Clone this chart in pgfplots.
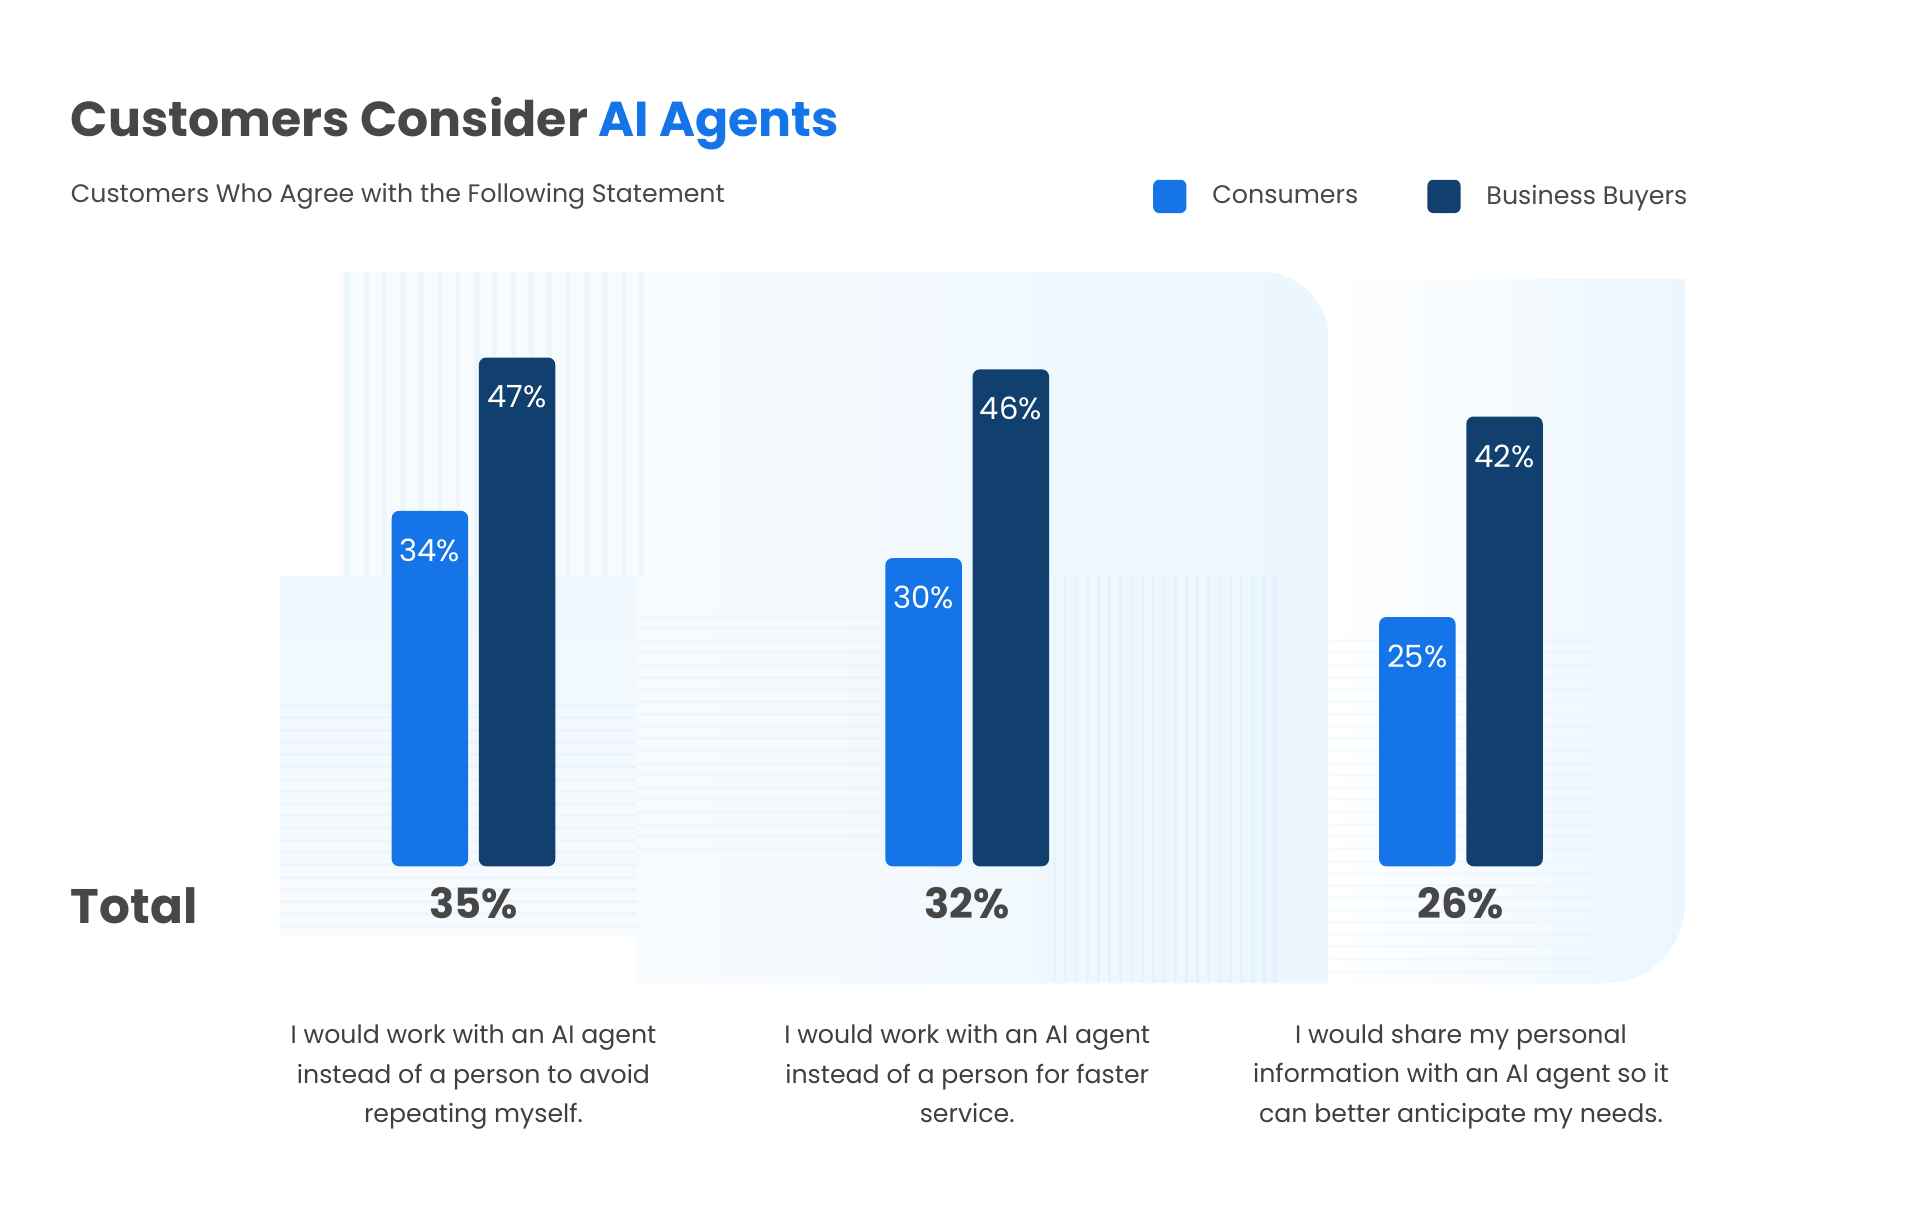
\documentclass[border=0pt]{standalone}
\usepackage{pgfplots}
\pgfplotsset{compat=1.18}
\usepackage{fontspec}
\setmainfont{Poppins}
\definecolor{cons}{HTML}{1474E8}
\definecolor{biz}{HTML}{113F6E}
\definecolor{tgrey}{HTML}{474747}
\definecolor{sgrey}{HTML}{3F3F3F}
\definecolor{pale}{HTML}{EBF6FE}
\definecolor{paler}{HTML}{F8FBFE}
\definecolor{stripe}{HTML}{D6EBFB}
\pgfplotsset{rlegend/.style={legend image code/.code={\fill[##1,rounded corners=2.5pt] (0pt,-6.8pt) rectangle (13.6pt,6.8pt);}}}
\begin{document}
\begin{tikzpicture}
\begin{scope}[x=0.5pt,y=-0.5pt]
\fill[white] (0,0) rectangle (1568,990.6);
% center panel
\shade[left color=paler,right color=pale] (520,803) -- (520,222) -- (1030,222) arc[start angle=90,end angle=0,radius=27.5pt] -- (1085,803) -- cycle;
% top-left striped area
\fill[paler] (278,222) rectangle (530,471);
\foreach \x in {282,297,...,527} \fill[stripe,opacity=0.3] (\x,222) rectangle ++(4,249);
% right panel
\shade[left color=white,right color=pale] (1085,228) -- (1376,228) -- (1376,738) arc[start angle=0,end angle=-90,radius=32.5pt] -- (1085,803) -- cycle;
\foreach \y in {522,532,...,792} \fill[stripe,opacity=0.2] (1085,\y) rectangle (1300,\y+2.5);
% left panel
\shade[top color=pale!80!white,bottom color=paler] (229,471) rectangle (520,765);
\foreach \y in {575,585,...,760} \fill[stripe,opacity=0.25] (229,\y) rectangle (520,\y+2.5);
% center-left horizontal stripes
\foreach \y in {502,512,...,692} \fill[stripe,opacity=0.2] (520,\y) rectangle (720,\y+2.5);
% center vertical stripes
\foreach \x in {860,869,...,1040} \fill[stripe,opacity=0.3] (\x,470) rectangle ++(2.5,333);
% texts
\node[anchor=base west,inner sep=0pt,font=\fontsize{20pt}{24pt}\selectfont\bfseries,text=tgrey] at (57.5,111.1) {Customers Consider \textcolor{cons}{AI Agents}};
\node[anchor=base west,inner sep=0pt,font=\fontsize{10.3pt}{12pt}\selectfont,text=tgrey] at (57.5,165.6) {Customers Who Agree with the Following Statement};
\node[anchor=base west,inner sep=0pt,font=\fontsize{19.8pt}{24pt}\selectfont\bfseries,text=tgrey] at (57.5,753.8) {Total};
\end{scope}
\begin{axis}[
  at={(92.55pt,-353.75pt)}, anchor=south west,
  x=201.6pt, y=4.816pt,
  xmin=-0.5, xmax=2.5, ymin=3.86, ymax=50,
  axis line style={draw=none}, tick style={draw=none},
  ytick=\empty,
  xtick={0,1,2},
  xticklabels={{I would work with an AI agent\\instead of a person to avoid\\repeating myself.},
               {I would work with an AI agent\\instead of a person for faster\\service.},
               {I would share my personal\\information with an AI agent so it\\can better anticipate my needs.}},
  xticklabel style={anchor=north, yshift=-64.5pt, inner sep=0pt, align=center,
     font=\fontsize{10.3pt}{16.1pt}\selectfont, text=sgrey},
  clip=false,
  /pgf/number format/assume math mode=true,
  legend columns=2,
  legend cell align=left,
  legend style={at={(0.6252,1.231)}, anchor=west, draw=none, fill=none, inner sep=0pt,
     font=\fontsize{10.35pt}{12pt}\selectfont, text=tgrey, nodes={inner sep=0pt},
     /tikz/every odd column/.append style={column sep=10.55pt},
     /tikz/every even column/.append style={column sep=28.2pt}},
]
\addplot[ybar, bar width=31.25pt, bar shift=-17.8pt, fill=cons, draw=none, rounded corners=3pt,
  point meta=y,
  nodes near coords={\pgfmathprintnumber[assume math mode=true]{\pgfplotspointmeta}\%},
  every node near coord/.append style={anchor=north, xshift=-17.8pt, yshift=-11.25pt, inner sep=0pt, text=white,
     font=\fontsize{12.5pt}{14pt}\selectfont},
  rlegend] coordinates {(0,34) (1,30) (2,25)};
\addlegendentry{Consumers}
\addplot[ybar, bar width=31.25pt, bar shift=17.8pt, fill=biz, draw=none, rounded corners=3pt,
  point meta=y,
  nodes near coords={\pgfmathprintnumber[assume math mode=true]{\pgfplotspointmeta}\%},
  every node near coord/.append style={anchor=north, xshift=17.8pt, yshift=-11.25pt, inner sep=0pt, text=white,
     font=\fontsize{12.5pt}{14pt}\selectfont},
  rlegend] coordinates {(0,47) (1,46) (2,42)};
\addlegendentry{Business Buyers}
\node[anchor=base, yshift=-21.5pt, inner sep=0pt, font=\fontsize{17pt}{20pt}\selectfont\bfseries, text=tgrey] at (axis cs:0,3.86) {35\%};
\node[anchor=base, yshift=-21.5pt, inner sep=0pt, font=\fontsize{17pt}{20pt}\selectfont\bfseries, text=tgrey] at (axis cs:1,3.86) {32\%};
\node[anchor=base, yshift=-21.5pt, inner sep=0pt, font=\fontsize{17pt}{20pt}\selectfont\bfseries, text=tgrey] at (axis cs:2,3.86) {26\%};
\end{axis}
\pgfresetboundingbox
\path[use as bounding box] (0,0) rectangle (784pt,-495.3pt);
\end{tikzpicture}
\end{document}
